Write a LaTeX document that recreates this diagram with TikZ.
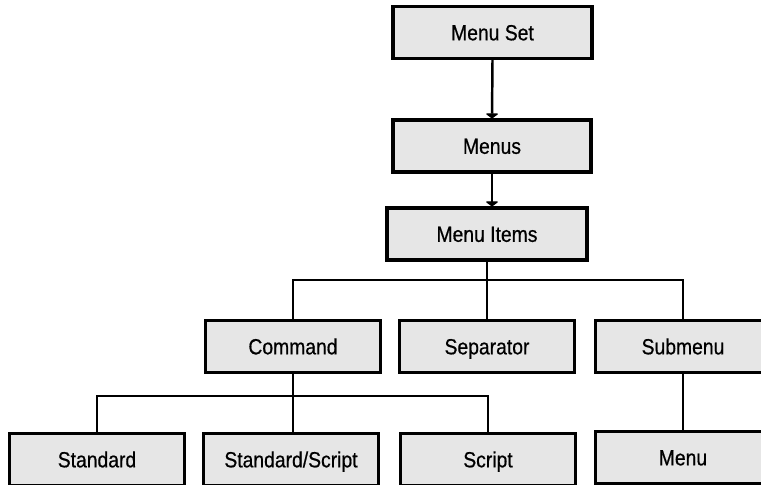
\documentclass[tikz,border=0pt]{standalone}
\usepackage{fontspec}
\setmainfont[FakeStretch=0.88, FakeBold=0.6]{Liberation Sans}
\usepackage{tikz}
\usetikzlibrary{arrows.meta, positioning, calc}
\definecolor{boxgray}{RGB}{230,230,230}

\begin{document}
\begin{tikzpicture}[
  x=0.02cm, y=-0.02cm,
  every node/.style={font=\fontsize{12.5pt}{15pt}\selectfont},
  menubox/.style={draw=black, fill=boxgray, line width=1.8pt,
                  minimum width=3.5cm, minimum height=1.04cm,
                  inner sep=0pt, text height=8.9pt, text depth=0pt,
                  text centered},
  link/.style={line width=1.4pt, black},
  tarr/.style={link, -{Triangle[width=8pt, length=3pt, round]}},
]

\useasboundingbox (0,0) rectangle (761,484);
\clip (0,0) rectangle (761,484);

%% ── TOP CHAIN ─────────────────────────────────────────────────────────
\node[menubox, minimum width=3.98cm] (menuset)   at (492.5, 32.5) {Menu Set};
\node[menubox, minimum width=3.96cm] (menus)     at (492, 146)    {Menus};
\node[menubox, minimum width=4.0cm]  (menuitems) at (487, 234)    {Menu Items};

%% ── MENU ITEM KINDS ───────────────────────────────────────────────────
\node[menubox] (command)   at (293, 346.5) {Command};
\node[menubox] (separator) at (487, 346.5) {Separator};
\node[menubox] (submenu)   at (683, 346.5) {Submenu};

%% ── COMMAND KINDS / SUBMENU TARGET ────────────────────────────────────
\node[menubox] (standard)  at (97, 459.5)  {Standard};
\node[menubox] (stdscript) at (291, 459.5) {Standard/Script};
\node[menubox] (script)    at (488, 459.5) {Script};
\node[menubox] (menu)      at (683, 457.5) {Menu};

%% ═════════════════════════════════════════════════════════════════════
%% CONNECTORS
%% ═════════════════════════════════════════════════════════════════════

%% Menu Set → Menus → Menu Items
\draw[tarr] (menuset.south) -- (menus.north);
\draw[tarr] (menus.south) -- (menus.south |- menuitems.north);

%% Menu Items → kinds
\coordinate (itembus) at (487, 280);
\draw[link] (menuitems.south) -- (separator.north);
\draw[link] (command.north) |- (itembus) -| (submenu.north);

%% Command → kinds
\coordinate (cmdbus) at (293, 396);
\draw[link] (command.south) -- (command.south |- stdscript.north);
\draw[link] (standard.north) |- (cmdbus) -| (script.north);

%% Submenu → Menu
\draw[link] (submenu.south) -- (menu.north);

\end{tikzpicture}
\end{document}
